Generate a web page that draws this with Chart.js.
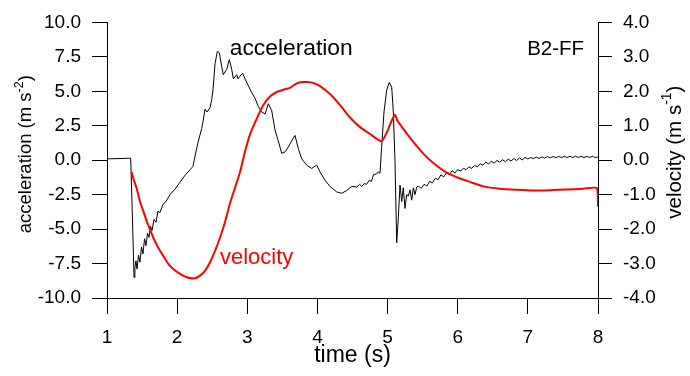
<!DOCTYPE html>
<html><head><meta charset="utf-8">
<script src="https://cdn.jsdelivr.net/npm/chart.js@4/dist/chart.umd.min.js"></script>
<style>html,body{margin:0;padding:0;background:#fff;overflow:hidden}</style>
</head><body>
<canvas id="c" width="690" height="376" style="width:690px;height:376px;display:block"></canvas>
<script>
const xTicks = [1, 2, 3, 4, 5, 6, 7, 8];
const accTicks = [-10, -7.5, -5, -2.5, 0, 2.5, 5, 7.5, 10];
const velTicks = [-4, -3, -2, -1, 0, 1, 2, 3, 4];

const accTime = [1.00, 1.20, 1.338, 1.356, 1.385, 1.398, 1.413, 1.428, 1.449, 1.470, 1.492, 1.513, 1.535, 1.556, 1.577, 1.599, 1.620, 1.642, 1.670, 1.699, 1.727, 1.756, 1.798, 1.841, 1.898, 1.969, 2.041, 2.112, 2.183, 2.226, 2.255, 2.298, 2.350, 2.369, 2.397, 2.426, 2.468, 2.493, 2.511, 2.540, 2.573, 2.601, 2.635, 2.658, 2.682, 2.707, 2.744, 2.778, 2.801, 2.849, 2.868, 2.896, 2.935, 2.968, 3.015, 3.063, 3.110, 3.157, 3.206, 3.253, 3.300, 3.348, 3.395, 3.442, 3.491, 3.538, 3.585, 3.633, 3.680, 3.727, 3.776, 3.847, 3.918, 3.990, 4.037, 4.108, 4.179, 4.275, 4.346, 4.418, 4.489, 4.56, 4.60, 4.63, 4.67, 4.70, 4.74, 4.77, 4.80, 4.84, 4.868, 4.892, 4.916, 4.949, 4.988, 5.025, 5.059, 5.082, 5.106, 5.130, 5.153, 5.177, 5.202, 5.224, 5.249, 5.273, 5.296, 5.320, 5.344, 5.367, 5.391, 5.415, 5.44, 5.48, 5.52, 5.56, 5.60, 5.64, 5.68, 5.72, 5.76, 5.80, 5.84, 5.88, 5.92, 5.96, 6.00, 6.04, 6.08, 6.12, 6.16, 6.20, 6.24, 6.28, 6.32, 6.36, 6.40, 6.44, 6.48, 6.52, 6.56, 6.60, 6.64, 6.68, 6.72, 6.76, 6.80, 6.84, 6.88, 6.92, 6.96, 7.00, 7.04, 7.08, 7.12, 7.16, 7.20, 7.24, 7.28, 7.32, 7.36, 7.40, 7.44, 7.48, 7.52, 7.56, 7.60, 7.64, 7.68, 7.72, 7.76, 7.80, 7.84, 7.88, 7.92, 7.96, 8.00];
const accValues = [0.10, 0.12, 0.15, -3.0, -8.5, -7.8, -7.3, -7.9, -6.9, -7.4, -6.3, -6.8, -5.7, -6.2, -5.3, -5.6, -4.8, -5.1, -4.3, -4.5, -3.7, -3.8, -3.2, -3.0, -2.5, -2.1, -1.6, -1.1, -0.7, -0.45, 0.3, 1.3, 2.3, 2.8, 3.7, 3.5, 3.8, 4.4, 5.1, 7.0, 7.9, 7.8, 6.8, 6.2, 6.4, 6.6, 7.3, 6.6, 5.9, 6.2, 5.9, 6.1, 6.3, 5.9, 5.4, 4.9, 4.5, 3.9, 3.5, 3.35, 4.1, 3.6, 2.2, 1.4, 0.5, 0.6, 0.95, 1.4, 1.8, 0.85, 0.1, -0.36, -0.6, -0.36, -0.85, -1.45, -1.9, -2.3, -2.4, -2.2, -1.9, -1.95, -1.75, -1.9, -1.7, -1.75, -1.45, -1.55, -1.05, -1.0, -0.85, -0.95, 1.0, 3.5, 5.1, 5.65, 5.3, 3.5, -0.1, -6.0, -4.2, -1.8, -3.0, -2.0, -3.5, -2.5, -2.6, -2.15, -2.9, -2.0, -2.5, -1.95, -1.89, -2.04, -1.75, -1.88, -1.54, -1.65, -1.31, -1.41, -1.07, -1.21, -0.91, -1.05, -0.77, -0.93, -0.68, -0.79, -0.58, -0.69, -0.48, -0.60, -0.38, -0.48, -0.26, -0.36, -0.14, -0.27, -0.08, -0.21, -0.02, -0.15, 0.03, -0.11, 0.08, -0.06, 0.12, -0.02, 0.16, 0.02, 0.20, 0.09, 0.20, 0.11, 0.22, 0.13, 0.24, 0.15, 0.26, 0.17, 0.27, 0.18, 0.28, 0.18, 0.29, 0.19, 0.29, 0.19, 0.29, 0.19, 0.29, 0.19, 0.29, 0.19, 0.29, 0.19, 0.24];

const velTime = [1.352, 1.375, 1.423, 1.470, 1.518, 1.566, 1.613, 1.660, 1.731, 1.803, 1.874, 1.945, 2.041, 2.136, 2.255, 2.326, 2.397, 2.468, 2.540, 2.611, 2.682, 2.754, 2.825, 2.896, 2.968, 3.039, 3.134, 3.229, 3.324, 3.420, 3.509, 3.608, 3.680, 3.752, 3.847, 3.942, 4.037, 4.179, 4.322, 4.464, 4.607, 4.750, 4.845, 4.916, 4.988, 5.059, 5.106, 5.139, 5.224, 5.367, 5.509, 5.652, 5.843, 6.033, 6.175, 6.365, 6.603, 6.841, 7.078, 7.316, 7.554, 7.791, 7.986, 8.000];
const velValues = [-0.34, -0.53, -0.82, -1.20, -1.48, -1.77, -2.01, -2.25, -2.54, -2.78, -3.01, -3.16, -3.30, -3.40, -3.43, -3.35, -3.21, -2.97, -2.63, -2.25, -1.80, -1.25, -0.80, -0.35, 0.25, 0.75, 1.20, 1.60, 1.85, 1.98, 2.04, 2.10, 2.20, 2.26, 2.27, 2.24, 2.15, 1.92, 1.60, 1.24, 0.96, 0.76, 0.62, 0.55, 0.80, 1.15, 1.32, 1.15, 0.91, 0.53, 0.19, -0.08, -0.36, -0.53, -0.63, -0.76, -0.83, -0.86, -0.88, -0.87, -0.85, -0.83, -0.81, -1.35];

const FONT = "'Liberation Sans', Arial, Helvetica, sans-serif";
Chart.defaults.font.family = FONT;
Chart.defaults.color = '#000';

const accPoints = accTime.map((t, i) => ({x: t, y: accValues[i]}));
const velPoints = velTime.map((t, i) => ({x: t, y: velValues[i]}));

function measureSup(ctx, parts, size) {
  let w = 0;
  parts.forEach(p => {
    ctx.font = (p.sup ? size * 0.68 : size) + 'px ' + FONT;
    w += ctx.measureText(p.text).width;
  });
  return w;
}
function fillSup(ctx, parts, size, x0, y0) {
  let x = x0;
  parts.forEach(p => {
    const s = p.sup ? size * 0.68 : size;
    ctx.font = s + 'px ' + FONT;
    ctx.fillText(p.text, x, p.sup ? y0 - size * 0.36 : y0);
    x += ctx.measureText(p.text).width;
  });
}

const textPlugin = {
  id: 'texts',
  afterDraw(chart) {
    const ctx = chart.ctx;
    const a = chart.chartArea;
    const xs = chart.scales.x, ya = chart.scales.y;
    ctx.save();
    ctx.textBaseline = 'alphabetic';
    ctx.textAlign = 'left';
    ctx.fillStyle = '#000';
    ctx.font = '22.8px ' + FONT;
    ctx.fillText('acceleration', xs.getPixelForValue(2.75), ya.getPixelForValue(7.65));
    ctx.fillStyle = '#ff0000';
    ctx.font = '22px ' + FONT;
    ctx.fillText('velocity', xs.getPixelForValue(2.61), ya.getPixelForValue(-7.55));
    ctx.fillStyle = '#000';
    ctx.font = '20.5px ' + FONT;
    ctx.fillText('B2-FF', xs.getPixelForValue(6.99), ya.getPixelForValue(7.65));
    ctx.font = '23px ' + FONT;
    ctx.textAlign = 'center';
    ctx.fillText('time (s)', (a.left + a.right) / 2, 362);
    ctx.textAlign = 'left';
    ctx.textBaseline = 'middle';
    const leftParts = [{text: 'acceleration (m s'}, {text: '-2', sup: true}, {text: ')'}];
    const rightParts = [{text: 'velocity (m s'}, {text: '-1', sup: true}, {text: ')'}];
    const cy = (a.top + a.bottom) / 2;
    let w = measureSup(ctx, leftParts, 18.5);
    ctx.save();
    ctx.translate(a.left - 81, cy - 6);
    ctx.rotate(-Math.PI / 2);
    fillSup(ctx, leftParts, 18.5, -w / 2, 0);
    ctx.restore();
    w = measureSup(ctx, rightParts, 20.5);
    ctx.save();
    ctx.translate(a.right + 77, cy - 8);
    ctx.rotate(-Math.PI / 2);
    fillSup(ctx, rightParts, 20.5, -w / 2, 0);
    ctx.restore();
    ctx.restore();
  }
};

new Chart(document.getElementById('c'), {
  type: 'scatter',
  data: {
    datasets: [
      {label: 'velocity', data: velPoints, yAxisID: 'y1', showLine: true, borderColor: '#ff0000', borderWidth: 2, pointRadius: 0, tension: 0.2, fill: false},
      {label: 'acceleration', data: accPoints, yAxisID: 'y', showLine: true, borderColor: '#000', borderWidth: 1, pointRadius: 0, tension: 0, fill: false}
    ]
  },
  options: {
    responsive: false,
    animation: false,
    devicePixelRatio: 1,
    layout: {padding: {top: 19, left: 0, right: 0, bottom: 0}},
    plugins: {legend: {display: false}, tooltip: {enabled: false}},
    scales: {
      x: {
        type: 'linear', position: 'bottom', min: 1, max: 8,
        afterBuildTicks: s => { s.ticks = xTicks.map(v => ({value: v})); },
        afterFit: s => { s.height = 78; },
        grid: {drawOnChartArea: false, drawTicks: true, tickLength: 16, color: '#000', lineWidth: 1},
        border: {display: true, color: '#000', width: 1},
        ticks: {font: {size: 19}, color: '#000', padding: 12, maxRotation: 0, callback: v => String(v)}
      },
      y: {
        type: 'linear', position: 'left', min: -10, max: 10,
        afterBuildTicks: s => { s.ticks = accTicks.map(v => ({value: v})); },
        afterFit: s => { s.width = 107; },
        grid: {drawOnChartArea: false, drawTicks: true, tickLength: 15, color: '#000', lineWidth: 1},
        border: {display: true, color: '#000', width: 1},
        ticks: {font: {size: 19}, color: '#000', padding: 11, callback: v => Number(v).toFixed(1)}
      },
      y1: {
        type: 'linear', position: 'right', min: -4, max: 4,
        afterBuildTicks: s => { s.ticks = velTicks.map(v => ({value: v})); },
        afterFit: s => { s.width = 92; },
        grid: {drawOnChartArea: false, drawTicks: true, tickLength: 14, color: '#000', lineWidth: 1},
        border: {display: true, color: '#000', width: 1},
        ticks: {font: {size: 19}, color: '#000', padding: 11, callback: v => Number(v).toFixed(1)}
      }
    }
  },
  plugins: [textPlugin]
});
</script>
</body></html>
